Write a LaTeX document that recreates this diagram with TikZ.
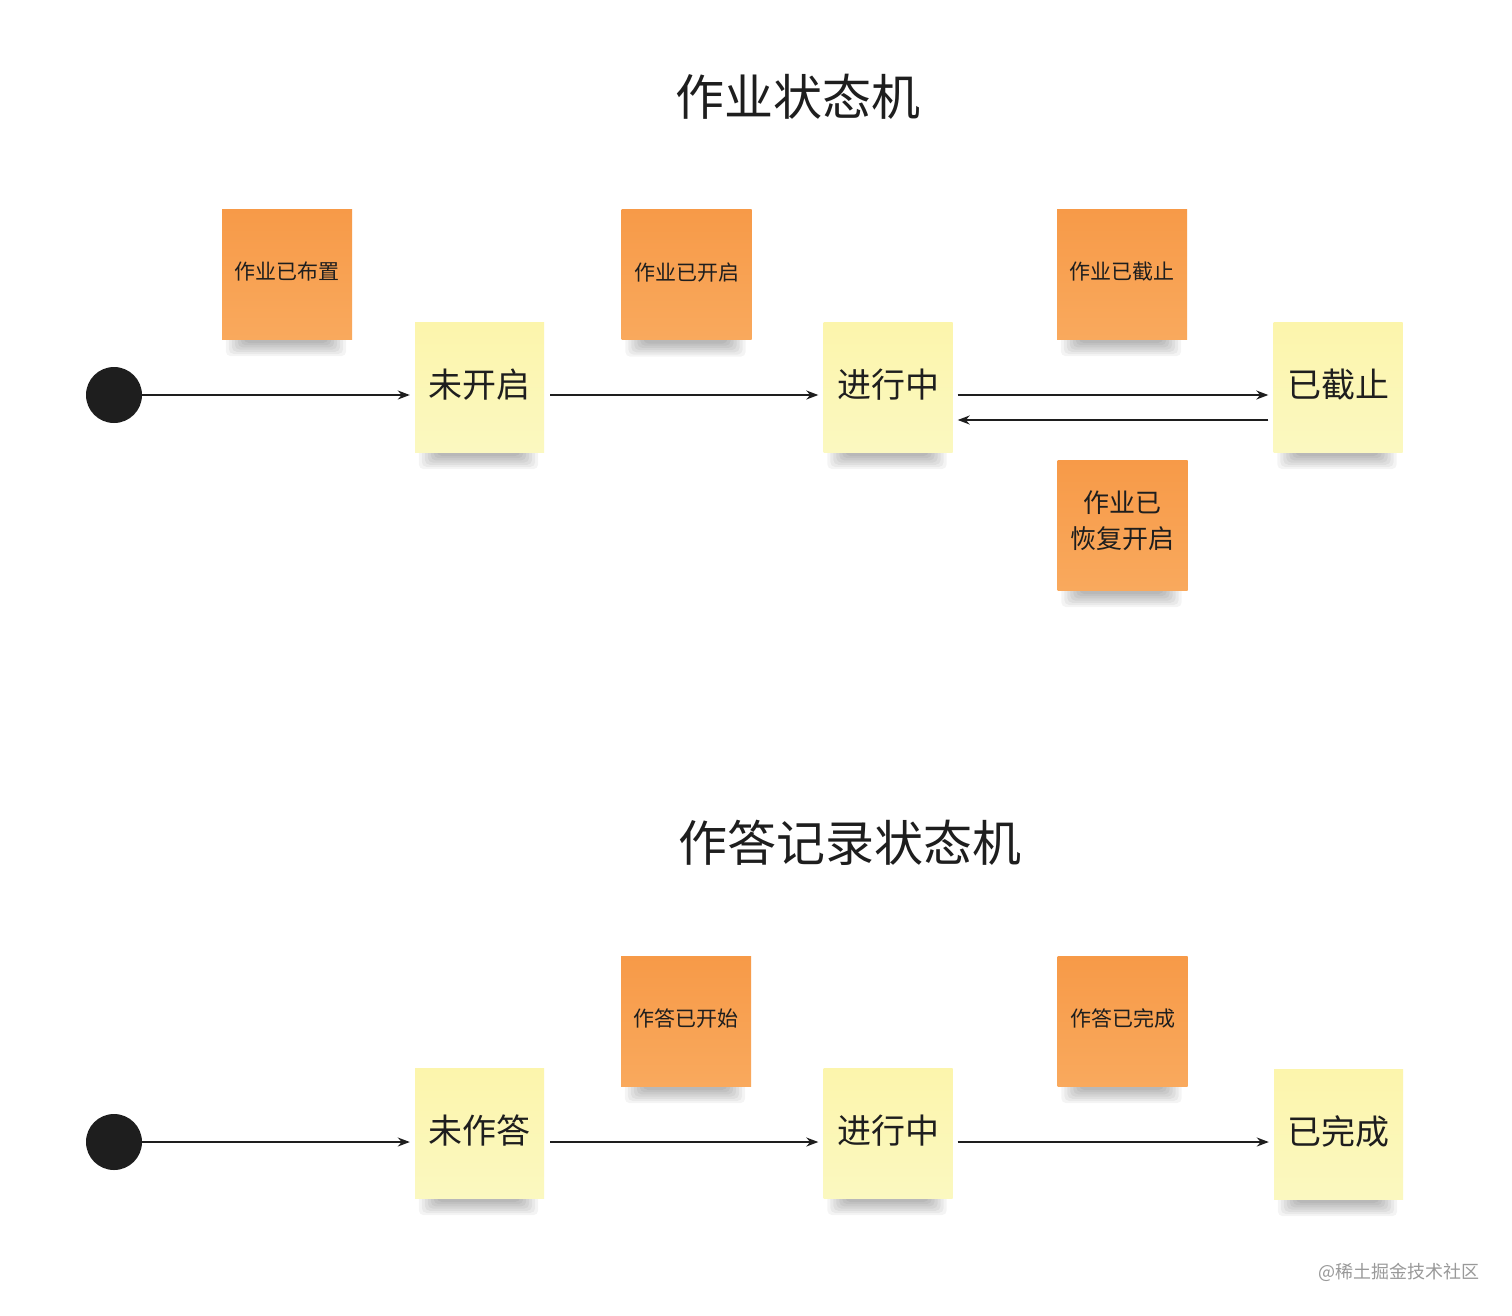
\documentclass[tikz,border=0pt]{standalone}
\usepackage{fontspec}
\setmainfont{Noto Sans CJK SC}
\usetikzlibrary{arrows.meta,calc,backgrounds}
\definecolor{noteO}{HTML}{F79A48}
\definecolor{noteOl}{HTML}{F9A95D}
\definecolor{noteY}{HTML}{FCF5AC}
\definecolor{noteYl}{HTML}{FBF8C0}
\definecolor{ink}{HTML}{1E1E1E}
\begin{document}
\begin{tikzpicture}[x=1pt,y=-1pt,
  onote/.style={rectangle, minimum width=130pt, minimum height=130pt, inner sep=0pt,
    top color=noteO, bottom color=noteOl, align=center, text=ink,
    font=\fontsize{21pt}{26pt}\selectfont},
  bigtext/.style={align=center, text=ink, inner sep=0pt, font=\fontsize{26pt}{36pt}\selectfont},
  ynote/.style={rectangle, minimum width=129pt, minimum height=130pt, inner sep=0pt,
    top color=noteY, bottom color=noteYl, align=center, text=ink,
    font=\fontsize{34pt}{40pt}\selectfont},
  startdot/.style={circle, fill=ink, minimum size=56pt, inner sep=0pt},
  titletext/.style={font=\fontsize{49pt}{56pt}\selectfont, text=ink, inner sep=0pt},
  arr/.style={draw=ink, line width=1.6pt, -{Stealth[length=12pt,width=9pt]}, shorten >=5pt},
  notesh/.style={fill=black, opacity=0.045, rounded corners=5pt}
]
\useasboundingbox (0,0) rectangle (1512,1315);

% titles
\node[titletext] (t1) at (798,97) {作业状态机};
\node[titletext] (t2) at (850,843) {作答记录状态机};

% top machine
\node[startdot] (c1) at (114,395) {};
\node[ynote] (a1) at (479.5,387) {\raisebox{8pt}{未开启}};
\node[ynote] (a2) at (888,387) {\raisebox{8pt}{进行中}};
\node[ynote] (a3) at (1338,387) {\raisebox{8pt}{已截止}};
\node[onote] (e1) at (287,274) {\raisebox{6pt}{作业已布置}};
\node[onote] (e2) at (686.5,274.5) {\raisebox{6pt}{作业已开启}};
\node[onote] (e3) at (1122,274) {\raisebox{6pt}{作业已截止}};
\node[onote] (e4) at (1122.5,525) {};
\node[bigtext] (e4t) at (1122.5,521) {作业已\\恢复开启};

% bottom machine
\node[startdot] (c2) at (114,1142) {};
\node[ynote] (b1) at (479.5,1133) {\raisebox{8pt}{未作答}};
\node[ynote] (b2) at (888,1133) {\raisebox{8pt}{进行中}};
\node[ynote] (b3) at (1338.5,1134) {\raisebox{8pt}{已完成}};
\node[onote] (f1) at (686,1021) {\raisebox{6pt}{作答已开始}};
\node[onote] (f2) at (1122.5,1021) {\raisebox{6pt}{作答已完成}};

% background and soft shadows
\begin{scope}[on background layer]
\fill[white] (0,0) rectangle (1512,1315);
\foreach \n in {a1,a2,a3,e1,e2,e3,e4,b1,b2,b3,f1,f2}{
  \foreach \i in {0,...,6}{
    \fill[notesh] ($(\n.south west)+(4+3*\i,-6)$) rectangle ($(\n.south east)+(-6-3*\i,17-2.2*\i)$);
  }
}
\end{scope}

% connectors top
\draw[arr] (c1.east) -- (c1.east -| a1.west);
\draw[arr, shorten <=6pt] ([yshift=-8pt]a1.east) -- ([yshift=-8pt]a2.west);
\draw[arr, shorten <=5pt] ([yshift=-8pt]a2.east) -- ([yshift=-8pt]a3.west);
\draw[arr, shorten <=5pt] ([yshift=-33pt]a3.west) -- ([yshift=-33pt]a2.east);

% connectors bottom
\draw[arr] (c2.east) -- (c2.east -| b1.west);
\draw[arr, shorten <=6pt] ([yshift=-9pt]b1.east) -- ([yshift=-9pt]b2.west);
\draw[arr, shorten <=5pt] ([yshift=-9pt]b2.east) -- ([yshift=-9pt]b2.east -| b3.west);

% watermark
\node[font=\fontsize{18pt}{22pt}\selectfont, text=black!40, inner sep=0pt] (wm) at (1399,1272) {@稀土掘金技术社区};
\end{tikzpicture}
\end{document}
